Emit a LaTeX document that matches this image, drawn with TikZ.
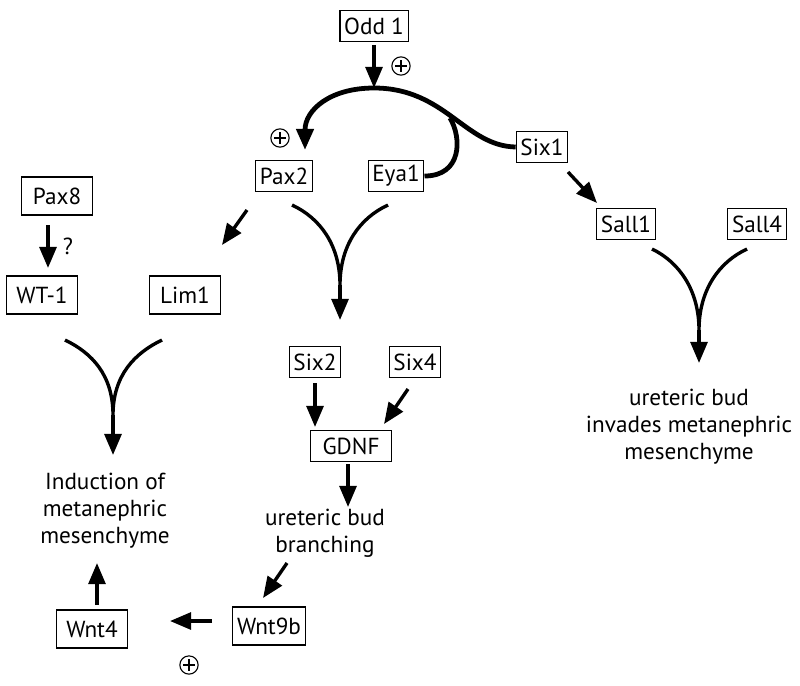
\documentclass[tikz,border=0pt]{standalone}
\usepackage{fontspec}
\setmainfont{PT Sans}
\usetikzlibrary{arrows.meta}

\begin{document}
\begin{tikzpicture}[x=0.025cm, y=-0.025cm,
  every node/.style={font=\fontsize{16.5}{19.3}\selectfont},
  gene/.style={draw, line width=0.8pt, inner xsep=3pt, inner ysep=2pt, minimum height=22pt},
  wide/.style={gene, minimum width=51pt, minimum height=27pt},
  arr/.style={-{Triangle[length=15pt,width=12pt]}, line width=2.4pt},
  fork/.style={line width=2.4pt},
  plus/.style={draw, circle, line width=0.8pt, inner sep=0pt, minimum size=13pt,
    path picture={\draw[line width=0.8pt]
      ([yshift=-2.5pt]path picture bounding box.north) -- ([yshift=2.5pt]path picture bounding box.south)
      ([xshift=2.5pt]path picture bounding box.west) -- ([xshift=-2.5pt]path picture bounding box.east);}}]
\useasboundingbox (0,0) rectangle (800,685);

% genes
\node[gene] (odd) at (374,26) {Odd 1};
\node[gene] (pax2) at (284,176) {Pax2};
\node[gene] (eya) at (396,176) {Eya1};
\node[gene] (six1) at (542,147) {Six1};
\node[gene] (sall1) at (626,224) {Sall1};
\node[gene] (sall4) at (757,224) {Sall4};
\node[wide] (pax8) at (57,196) {Pax8};
\node[wide] (wt) at (42,295) {WT-1};
\node[wide] (lim) at (185,295) {Lim1};
\node[gene] (six2) at (315,362) {Six2};
\node[gene] (six4) at (415,362) {Six4};
\node[gene, minimum width=57pt] (gdnf) at (351,446) {GDNF};
\node[wide] (wnt9) at (269,626) {Wnt9b};
\node[wide] (wnt4) at (92,629) {Wnt4};

% outcomes
\node[align=center] (induct) at (105,511) {Induction of\\metanephric\\mesenchyme};
\node[align=center] (branch) at (325,533) {ureteric bud\\branching};
\node[align=center] (invade) at (689,427) {ureteric bud\\invades metanephric\\mesenchyme};

\node[plus] (p1) at (401,66) {};
\node[plus] (p2) at (280,138) {};
\node[plus] (p3) at (189,665) {};
\node (q) at (68,246) {?};

% Odd1 loop
\coordinate (top) at (374,88);
\coordinate (meet) at (450,118);
\draw[arr, shorten <=2pt] (odd.south) -- (top);
\draw[-{Triangle[length=15pt,width=12pt]}, line width=3.4pt]
  (six1.west) .. controls (465,146) and (445,88) .. (top)
  .. controls (330,88) and (305,110) .. (305,150);
\draw[line width=3.4pt] (eya.east) .. controls (462,176) and (462,138) .. (meet);

% forks
\coordinate (j1) at (340,285);
\draw[fork] (292,205) .. controls (320,218) and (340,245) .. (j1)
  (388,205) .. controls (360,218) and (340,245) .. (j1);
\draw[arr] (j1) -- (340,320);
\coordinate (j2) at (113,415);
\draw[fork] (65,340) .. controls (92,353) and (113,375) .. (j2)
  (162,340) .. controls (135,353) and (113,375) .. (j2);
\draw[arr] (j2) -- (113,455);
\coordinate (j3) at (699,330);
\draw[fork] (652,249) .. controls (679,262) and (699,290) .. (j3)
  (747,249) .. controls (719,262) and (699,290) .. (j3);
\draw[arr] (j3) -- (699,363);

% short arrows
\draw[arr] ([shift={(-9,29)}]pax8.center) -- ([shift={(6,-27)}]wt.center);
\draw[arr] ([shift={(-37,34)}]pax2.center) -- ([shift={(37,-50)}]lim.center);
\draw[arr] ([shift={(26,25)}]six1.center) -- ([shift={(-29,-21)}]sall1.center);
\draw[arr] ([shift={(0,21)}]six2.center) -- ([shift={(-36,-19)}]gdnf.center);
\draw[arr] ([shift={(-7,27)}]six4.center) -- ([shift={(33,-22)}]gdnf.center);
\draw[arr] ([shift={(-3,18)}]gdnf.center) -- ([shift={(23,-26)}]branch.center);
\draw[arr] ([shift={(-38,30)}]branch.center) -- ([shift={(-6,-28)}]wnt9.center);
\draw[arr] ([shift={(-57,-5)}]wnt9.center) -- ([shift={(78,-8)}]wnt4.center);
\draw[arr] ([shift={(5,-24)}]wnt4.center) -- ([shift={(-8,52)}]induct.center);
\end{tikzpicture}
\end{document}
